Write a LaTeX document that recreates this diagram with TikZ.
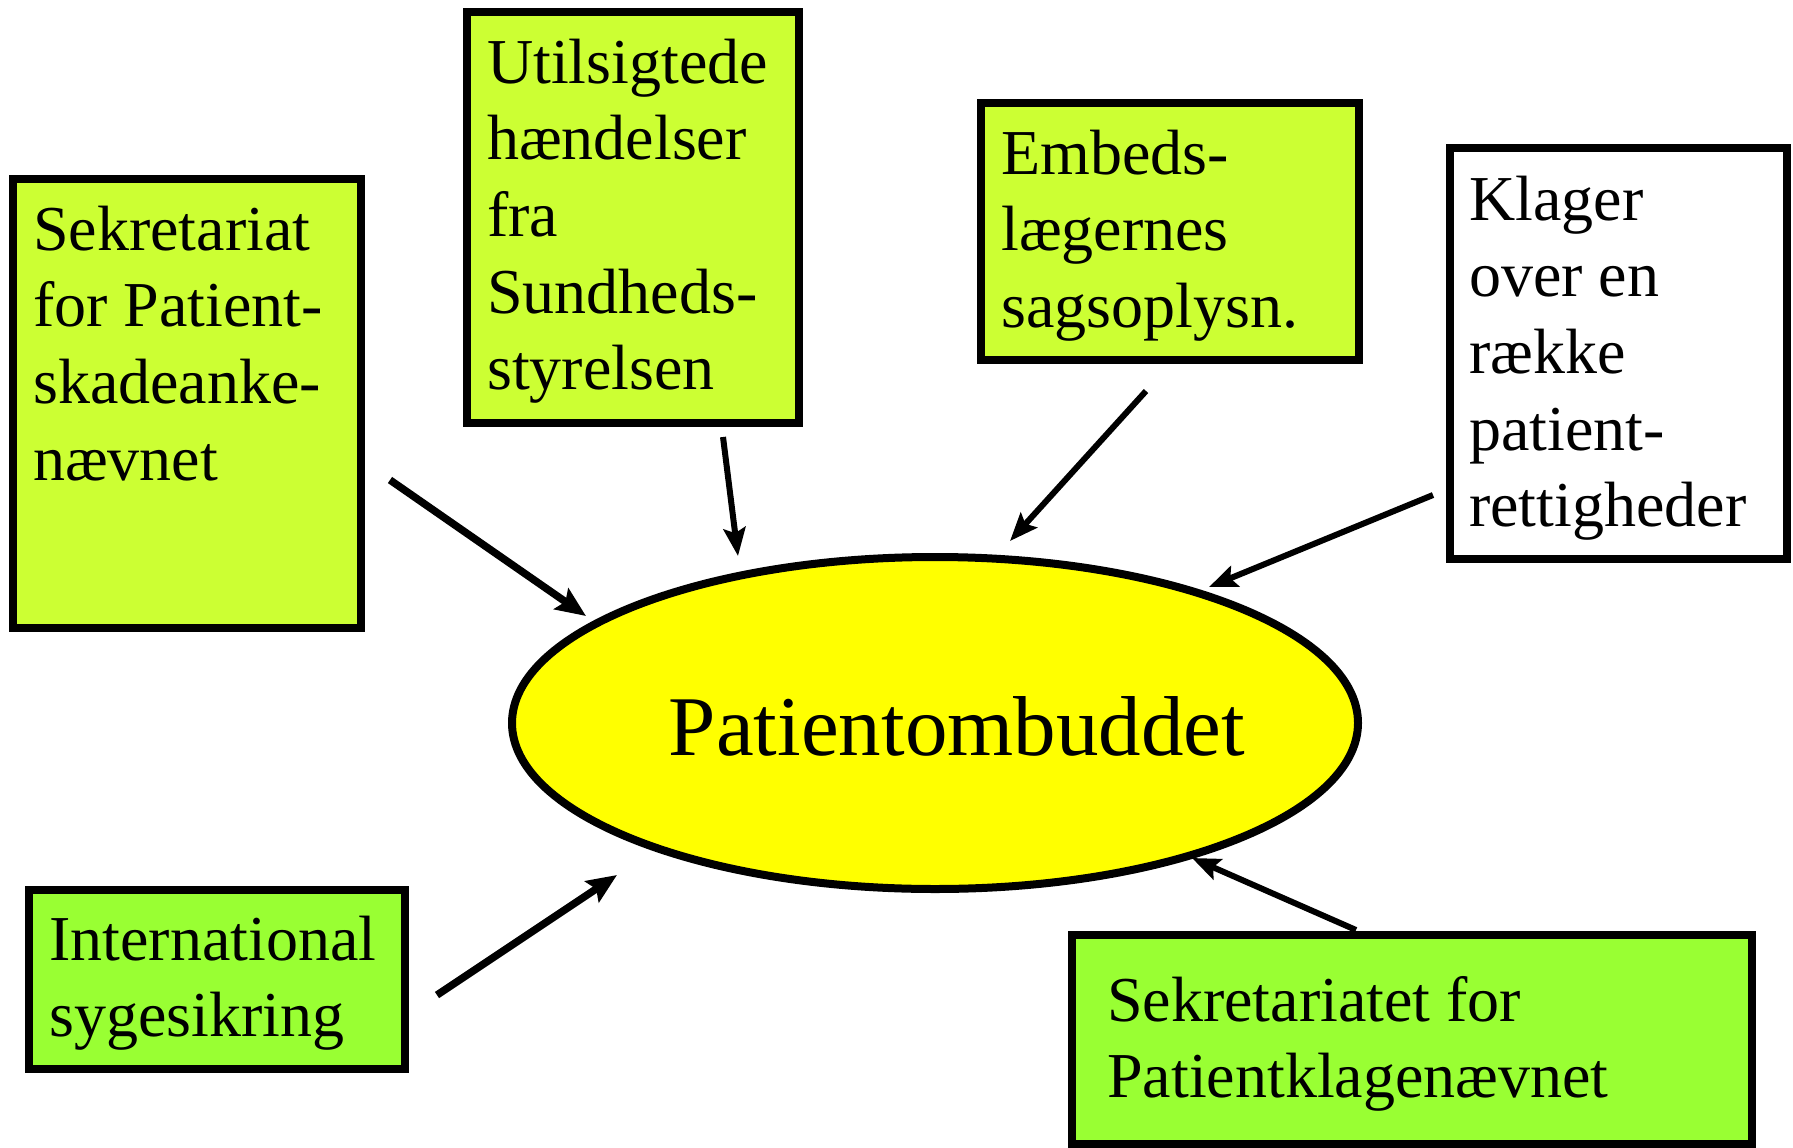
\documentclass[tikz,border=0pt]{standalone}
\usepackage{fontspec}
\setmainfont{Liberation Serif}
\usetikzlibrary{arrows.meta,shapes.geometric}
\definecolor{limeA}{HTML}{CCFF33}
\definecolor{greenA}{HTML}{99FF33}
\definecolor{yellowA}{HTML}{FFFF00}
\begin{document}
\begin{tikzpicture}[x=1pt,y=-1pt,
  box/.style={draw=black, line width=8pt, rectangle, inner sep=0pt},
  txt/.style={anchor=base west, inner sep=0pt, font=\fontsize{64}{76.7}\selectfont},
  arr/.style={line width=6pt, -{Stealth[length=28pt,width=22pt,inset=5pt]}},
  arrb/.style={line width=7.5pt, -{Stealth[length=30pt,width=25pt,inset=5pt]}}]
\useasboundingbox (0,0) rectangle (1793,1148);

% boxes
\node[box, fill=limeA, minimum width=348pt, minimum height=449pt] (b1) at (187,403.5) {};
\node[box, fill=limeA, minimum width=332pt, minimum height=411pt] (b2) at (633,217.5) {};
\node[box, fill=limeA, minimum width=378pt, minimum height=257pt] (b3) at (1170,231.5) {};
\node[box, fill=white, minimum width=337pt, minimum height=411pt] (b4) at (1618.5,353.5) {};
\node[box, fill=greenA, minimum width=376pt, minimum height=179pt] (b5) at (217,979.5) {};
\node[box, fill=greenA, minimum width=680pt, minimum height=209pt] (b6) at (1412,1039.5) {};

% ellipse
\node[draw=black, line width=8pt, ellipse, fill=yellowA, inner sep=0pt,
      minimum width=846pt, minimum height=332pt] (po) at (935,723) {};
\node[anchor=base, inner sep=0pt, font=\fontsize{85}{100}\selectfont] (pot) at (957,755) {Patientombuddet};

% texts
\node[txt] (t1) at (33,250) {\parbox[t]{500pt}{\raggedright Sekretariat\\for Patient-\\skadeanke-\\nævnet}};
\node[txt] (t2) at (487,83) {\parbox[t]{500pt}{\raggedright Utilsigtede\\hændelser\\fra\\Sundheds-\\styrelsen}};
\node[txt] (t3) at (1001,174) {\parbox[t]{500pt}{\raggedright Embeds-\\lægernes\\sagsoplysn.}};
\node[txt] (t4) at (1469,220) {\parbox[t]{500pt}{\raggedright Klager\\over en\\række\\patient-\\rettigheder}};
\node[txt] (t5) at (49,960) {\parbox[t]{500pt}{\raggedright International\\sygesikring}};
\node[txt] (t6) at (1107,1021) {\parbox[t]{800pt}{\raggedright Sekretariatet for\\Patientklagenævnet}};

% arrow endpoints
\coordinate (s1) at (390,480);  \coordinate (e1) at (586,616);
\coordinate (s2) at (723,437);  \coordinate (e2) at (738,556);
\coordinate (s3) at (1146,391); \coordinate (e3) at (1010,541);
\coordinate (s4) at (1433,495); \coordinate (e4) at (1209,587);
\coordinate (s5) at (437,995);  \coordinate (e5) at (617,875);
\coordinate (s6) at (1356,930); \coordinate (e6) at (1192,858);

\draw[arrb] (s1) -- (e1);
\draw[arr] (s2) -- (e2);
\draw[arr] (s3) -- (e3);
\draw[arr] (s4) -- (e4);
\draw[arrb] (s5) -- (e5);
\draw[arr] (s6) -- (e6);
\end{tikzpicture}
\end{document}
